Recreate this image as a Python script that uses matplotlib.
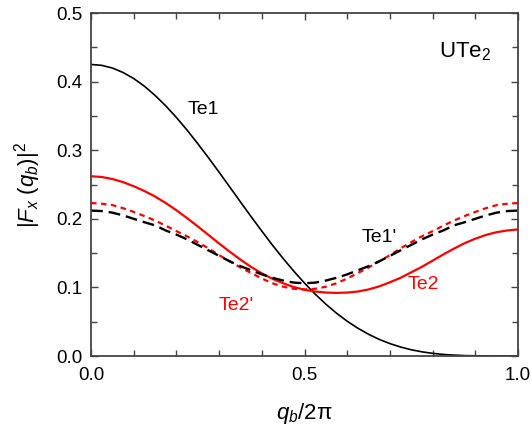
import matplotlib
matplotlib.use("Agg")
import matplotlib.pyplot as plt
from matplotlib.ticker import MultipleLocator

plt.rcParams['font.family'] = ['Liberation Sans', 'DejaVu Sans']
plt.rcParams['mathtext.fontset'] = 'custom'
plt.rcParams['mathtext.rm'] = 'Liberation Sans'
plt.rcParams['mathtext.it'] = 'Liberation Sans:italic'

# values, q_b/2pi in steps of 0.025
q = [i / 40 for i in range(41)]
te1 = [0.425, 0.4237, 0.4198, 0.4133, 0.4045, 0.3933, 0.3799, 0.3647,
       0.3477, 0.3293, 0.3096, 0.2891, 0.2679, 0.2463, 0.2246, 0.2031,
       0.1821, 0.1616, 0.1421, 0.1236, 0.1063, 0.0902, 0.0756, 0.0624,
       0.0507, 0.0405, 0.0317, 0.0242, 0.0181, 0.0131, 0.0091, 0.0061,
       0.0039, 0.0023, 0.0013, 0.0006, 0.0003, 0.0001, 0.0, 0.0, 0.0]
te2 = [0.262, 0.261, 0.258, 0.2535, 0.2475, 0.2405, 0.2325, 0.223, 0.2125,
       0.201, 0.189, 0.1765, 0.164, 0.152, 0.1405, 0.1298, 0.1205, 0.1125,
       0.106, 0.1005, 0.0965, 0.094, 0.0925, 0.092, 0.0925, 0.094, 0.097,
       0.1015, 0.1075, 0.114, 0.122, 0.130, 0.139, 0.148, 0.1565, 0.1645,
       0.171, 0.1765, 0.1805, 0.183, 0.1845]
te2p = [0.223, 0.222, 0.220, 0.2155, 0.210, 0.204, 0.1975, 0.190, 0.182,
        0.1745, 0.166, 0.157, 0.147, 0.138, 0.129, 0.121, 0.113, 0.106,
        0.101, 0.098, 0.097, 0.098, 0.101, 0.106, 0.113, 0.121, 0.129,
        0.138, 0.147, 0.157, 0.166, 0.1745, 0.182, 0.190, 0.1975, 0.204,
        0.210, 0.2155, 0.220, 0.222, 0.223]
te1p = [0.212, 0.2113, 0.209, 0.205, 0.200, 0.195, 0.1905, 0.183, 0.177,
        0.170, 0.162, 0.154, 0.146, 0.138, 0.131, 0.125, 0.119, 0.114,
        0.110, 0.107, 0.106, 0.107, 0.110, 0.114, 0.119, 0.125, 0.131,
        0.138, 0.146, 0.154, 0.162, 0.170, 0.177, 0.183, 0.1905, 0.195,
        0.200, 0.205, 0.209, 0.2113, 0.212]

fig = plt.figure(figsize=(5.31, 4.28), dpi=100)
ax = fig.add_axes([0.1714, 0.1682, 0.8041, 0.8014])

ax.plot(q, te1, color='k', lw=1.2)
ax.plot(q, te2, color='red', lw=1.6)
ax.plot(q, te2p, color='red', lw=1.6, dashes=(2.5, 2))
ax.plot(q, te1p, color='k', lw=1.7, dashes=(5, 2.5))

ax.set_xlim(0, 1)
ax.set_ylim(0, 0.5)
ax.xaxis.set_major_locator(MultipleLocator(0.5))
ax.xaxis.set_minor_locator(MultipleLocator(0.1))
ax.yaxis.set_major_locator(MultipleLocator(0.1))
ax.yaxis.set_minor_locator(MultipleLocator(0.05))
ax.tick_params(which='both', direction='in', top=True, right=True,
               labelsize=13.5, color='#444444')
ax.tick_params(which='major', length=5, width=1.0)
ax.tick_params(which='minor', length=4, width=1.0)
ax.tick_params(axis='x', pad=8)
ax.tick_params(axis='y', pad=6)
for s in ax.spines.values():
    s.set_linewidth(1.3)
    s.set_color('#444444')

ax.set_xlabel('$q_b$/2π', fontsize=16, labelpad=12)
ax.set_ylabel('|$F_x$ ($q_b$)|$^2$', fontsize=16, labelpad=10)

ax.text(0.262, 0.359, 'Te1', fontsize=14, ha='center', va='center')
ax.text(0.674, 0.173, "Te1'", fontsize=14, ha='center', va='center')
ax.text(0.779, 0.104, 'Te2', fontsize=14, ha='center', va='center', color='red')
ax.text(0.341, 0.074, "Te2'", fontsize=14, ha='center', va='center', color='red')
ax.text(0.877, 0.443, 'UTe$_2$', fontsize=16, ha='center', va='center')

fig.savefig('out.png', dpi=100)
